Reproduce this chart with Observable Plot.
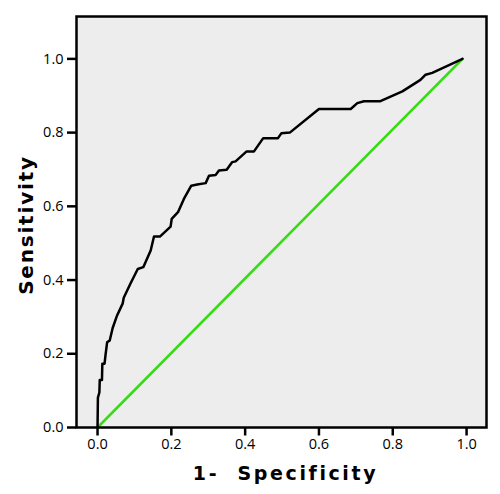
<!DOCTYPE html>
<html><head><meta charset="utf-8">
<script src="https://cdn.jsdelivr.net/npm/d3@7"></script>
<script src="https://cdn.jsdelivr.net/npm/@observablehq/plot@0.6"></script>
<style>html,body{margin:0;padding:0;background:#fff}</style>
</head><body><div id="chart"></div>
<script>
// ROC curve: 1 - specificity (x) and sensitivity (y)
const fpr = [0.000,0.001,0.005,0.006,0.012,0.013,0.019,0.022,0.026,0.033,0.041,0.053,0.068,0.071,0.089,0.109,0.124,0.144,0.153,0.169,0.198,0.201,0.218,0.234,0.254,0.270,0.293,0.302,0.320,0.329,0.350,0.365,0.374,0.404,0.424,0.449,0.489,0.498,0.521,0.600,0.686,0.704,0.722,0.765,0.826,0.875,0.889,0.907,0.989];
const tpr = [0.000,0.081,0.095,0.129,0.129,0.173,0.173,0.200,0.231,0.236,0.270,0.304,0.336,0.352,0.390,0.430,0.435,0.480,0.518,0.518,0.545,0.566,0.584,0.620,0.656,0.659,0.663,0.683,0.685,0.697,0.699,0.720,0.722,0.749,0.749,0.785,0.785,0.798,0.800,0.864,0.864,0.880,0.885,0.885,0.912,0.943,0.957,0.962,1.000];
// reference diagonal
const diagX = [0, 0.989];
const diagY = [0, 1.0];
const xTicks = [0, 0.2, 0.4, 0.6, 0.8, 1.0];
const yTicks = [0, 0.2, 0.4, 0.6, 0.8, 1.0];
const xLabel = "1-  Specificity";
const yLabel = "Sensitivity";

const roc = fpr.map((x, i) => ({x, y: tpr[i]}));
const diag = diagX.map((x, i) => ({x, y: diagY[i]}));

const chart = Plot.plot({
  width: 500,
  height: 494,
  marginLeft: 76,
  marginRight: 14,
  marginTop: 16,
  marginBottom: 67,
  style: {fontFamily: "'Open Sans', sans-serif", fontSize: "14.5px", color: "#000", background: "#fff"},
  x: {domain: [-0.057, 1.054]},
  y: {domain: [0, 1.115]},
  marks: [
    Plot.frame({fill: "#ededed"}),
    Plot.axisX({ticks: xTicks, tickFormat: d => d.toFixed(1), tickSize: 8.5, tickPadding: 3, strokeWidth: 2.5, fontSize: 14.5, label: null}),
    Plot.axisY({ticks: yTicks, tickFormat: d => d.toFixed(1), tickSize: 9, tickPadding: 4, strokeWidth: 2.5, fontSize: 14.5, label: null}),
    Plot.line(diag, {x: "x", y: "y", stroke: "#33dd11", strokeWidth: 2.5}),
    Plot.line(roc, {x: "x", y: "y", stroke: "#000", strokeWidth: 2.5}),
    Plot.frame({stroke: "#000", strokeWidth: 2.5}),
    Plot.text([yLabel], {frameAnchor: "left", textAnchor: "middle", lineAnchor: "middle", rotate: -90, dx: -49.5, dy: 3, fontFamily: "DejaVu Sans", fontWeight: "bold", fontSize: 20, fill: "#000"}),
    Plot.text([xLabel], {frameAnchor: "bottom", textAnchor: "middle", lineAnchor: "middle", dx: 4, dy: 46, fontFamily: "DejaVu Sans", fontWeight: "bold", fontSize: 19, fill: "#000"})
  ]
});
document.getElementById("chart").appendChild(chart);
d3.select(chart).selectAll("text")
  .filter(function() { return this.textContent === yLabel; })
  .style("letter-spacing", "1.8px");
d3.select(chart).selectAll("text")
  .filter(function() { return this.textContent === xLabel; })
  .style("letter-spacing", "2.6px").style("white-space", "pre");
</script>
</body></html>
